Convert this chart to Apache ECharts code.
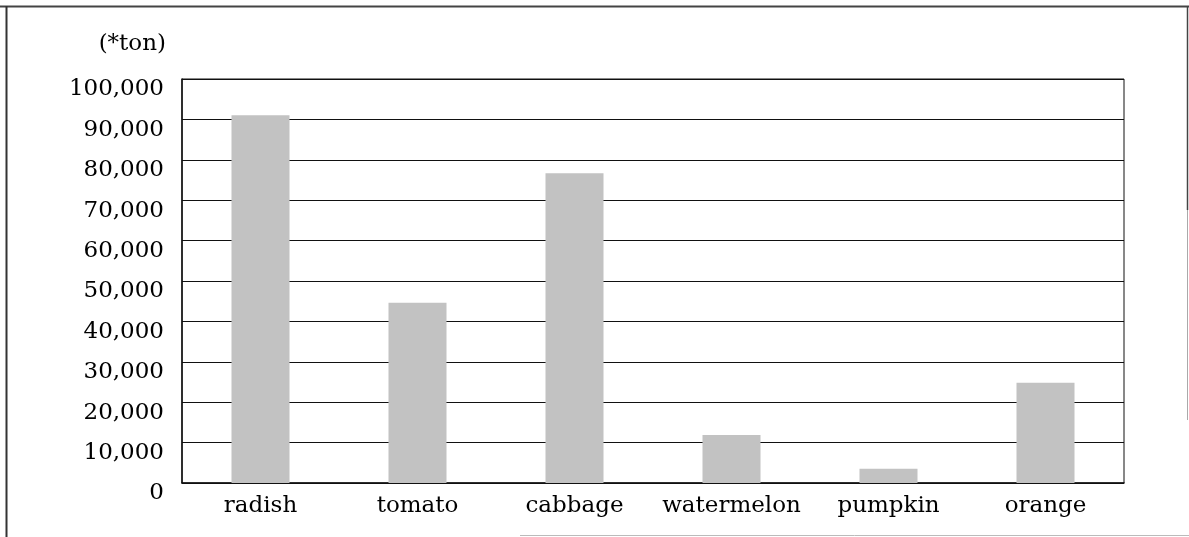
<!DOCTYPE html>
<html>
<head>
<meta charset="utf-8">
<script src="https://cdn.jsdelivr.net/npm/echarts@6/dist/echarts.min.js"></script>
<style>
html,body{margin:0;padding:0;background:#fff;}
#chart{width:1189px;height:537px;}
</style>
</head>
<body>
<div id="chart"></div>
<script>
const categories = ['radish', 'tomato', 'cabbage', 'watermelon', 'pumpkin', 'orange'];
const production = [91000, 44600, 76700, 11900, 3500, 24800];
const unitLabel = '(*ton)';
const yMin = 0, yMax = 100000, yStep = 10000;

const FONT = '"DejaVu Serif", "Liberation Serif", serif';
const chart = echarts.init(document.getElementById('chart'), null, {renderer: 'canvas'});
chart.setOption({
  backgroundColor: '#ffffff',
  animation: false,
  grid: {left: 182, right: 65, top: 79, bottom: 54, show: true, borderColor: '#111', borderWidth: 1, backgroundColor: 'transparent'},
  xAxis: {
    type: 'category',
    data: categories,
    axisLine: {show: true, lineStyle: {color: '#111', width: 1.5}},
    axisTick: {show: false},
    axisLabel: {color: '#000', fontFamily: FONT, fontSize: 23, margin: 12, interval: 0}
  },
  yAxis: {
    type: 'value',
    min: yMin, max: yMax, interval: yStep,
    axisLine: {show: true, lineStyle: {color: '#111', width: 1.5}},
    axisTick: {show: false},
    splitLine: {show: true, lineStyle: {color: '#111', width: 1.2}},
    axisLabel: {
      color: '#000', fontFamily: FONT, fontSize: 23, margin: 18,
      verticalAlign: 'top', lineHeight: 21,
      formatter: v => v.toLocaleString('en-US')
    }
  },
  series: [{
    type: 'bar',
    data: production,
    barWidth: 58,
    itemStyle: {color: '#c2c2c2'}
  }],
  graphic: [
    {type: 'text', right: 1189 - 166, top: 33, style: {text: unitLabel, fontFamily: FONT, fontSize: 23, fill: '#000'}},
    {type: 'line', shape: {x1: 0, y1: 6.5, x2: 1189, y2: 6.5}, style: {stroke: '#444', lineWidth: 2}},
    {type: 'line', shape: {x1: 6.5, y1: 6, x2: 6.5, y2: 537}, style: {stroke: '#333', lineWidth: 2}},
    {type: 'line', shape: {x1: 1187.5, y1: 6, x2: 1187.5, y2: 210}, style: {stroke: '#444', lineWidth: 1.5}},
    {type: 'line', shape: {x1: 1187.5, y1: 210, x2: 1187.5, y2: 420}, style: {stroke: '#aaa', lineWidth: 1}},
    {type: 'line', shape: {x1: 520, y1: 535.5, x2: 1189, y2: 535.5}, style: {stroke: '#bbb', lineWidth: 1}}
  ]
});
</script>
</body>
</html>
